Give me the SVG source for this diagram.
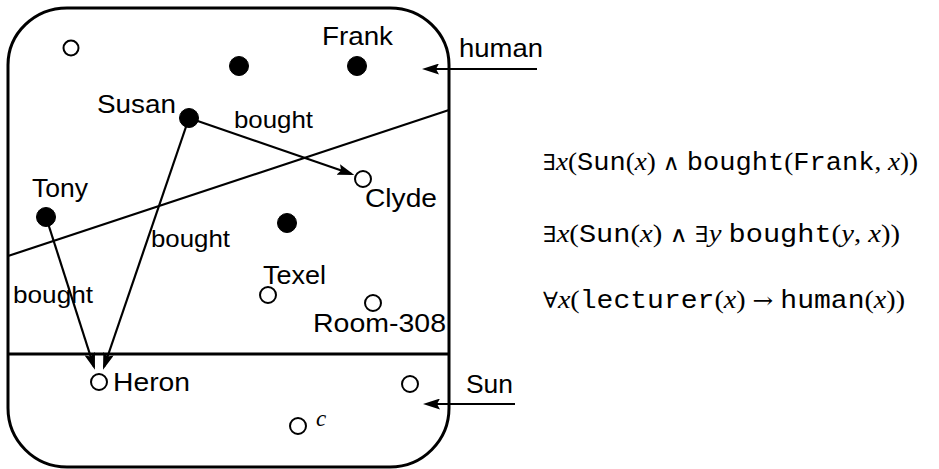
<svg xmlns="http://www.w3.org/2000/svg" width="939" height="469" viewBox="0 0 939 469">
<style>
.lbl{font-family:"Liberation Sans",Arial,sans-serif;font-size:26px;fill:#000}
.sm{font-family:"Liberation Sans",Arial,sans-serif;font-size:24px;fill:#000}
.open{fill:#fff;stroke:#000;stroke-width:2}
.fill{fill:#000;stroke:#000;stroke-width:1}
.con{stroke:#000;stroke-width:2.2;fill:none}
.frame{stroke:#000;stroke-width:3;fill:none}
.math{font-family:"Liberation Serif","DejaVu Serif",serif;font-size:25px;fill:#000}
.tt{font-family:"Liberation Mono","DejaVu Sans Mono",monospace}
.it{font-style:italic}
.sym{font-family:"DejaVu Serif",serif;font-size:22px}
</style>
<defs>
<marker id="ah" viewBox="0 0 17 11" refX="14" refY="5.5" markerWidth="17" markerHeight="11" orient="auto" markerUnits="userSpaceOnUse">
<path d="M0,0 L17,5.5 L0,11 L3,5.5 Z" fill="#000"/>
</marker>
</defs>
<rect width="939" height="469" fill="#fff"/>
<g id="frame">
<path class="frame" d="M67,8 H390 A59,57 0 0 1 449,65 V408 A59,59 0 0 1 390,467 H67 A59,59 0 0 1 8,408 V65 A59,57 0 0 1 67,8 Z"/>
<line class="con" x1="8" y1="256" x2="449" y2="110"/>
<line class="frame" x1="8" y1="354" x2="449" y2="354"/>
</g>
<g id="connectors">
<line class="con" x1="189" y1="118" x2="351.5" y2="174" marker-end="url(#ah)"/>
<line class="con" x1="189" y1="118" x2="104" y2="367" marker-end="url(#ah)"/>
<line class="con" x1="46" y1="217" x2="94" y2="367" marker-end="url(#ah)"/>
<line class="con" x1="537" y1="69" x2="425" y2="69" marker-end="url(#ah)"/>
<line class="con" x1="515" y1="404" x2="426" y2="404" marker-end="url(#ah)"/>
<text class="sm" x="234" y="128" textLength="79" lengthAdjust="spacingAndGlyphs">bought</text>
<text class="sm" x="151" y="247" textLength="79" lengthAdjust="spacingAndGlyphs">bought</text>
<text class="sm" x="13" y="303" textLength="80" lengthAdjust="spacingAndGlyphs">bought</text>
</g>
<g id="n-unnamed1"><circle class="open" cx="71" cy="48" r="7.5"/></g>
<g id="n-unnamed2"><circle class="fill" cx="239" cy="66" r="9.5"/></g>
<g id="n-frank"><circle class="fill" cx="357" cy="66" r="9.5"/><text class="lbl" x="322" y="45" textLength="71" lengthAdjust="spacingAndGlyphs">Frank</text></g>
<g id="n-susan"><circle class="fill" cx="189" cy="118" r="9.5"/><text class="lbl" x="97" y="113" textLength="79" lengthAdjust="spacingAndGlyphs">Susan</text></g>
<g id="n-clyde"><circle class="open" cx="363" cy="179" r="8"/><text class="lbl" x="365" y="207" textLength="72" lengthAdjust="spacingAndGlyphs">Clyde</text></g>
<g id="n-tony"><circle class="fill" cx="46" cy="217" r="9.5"/><text class="lbl" x="32" y="197" textLength="56" lengthAdjust="spacingAndGlyphs">Tony</text></g>
<g id="n-unnamed3"><circle class="fill" cx="287" cy="223" r="9.5"/></g>
<g id="n-texel"><circle class="open" cx="268" cy="295" r="8"/><text class="lbl" x="263" y="284" textLength="63" lengthAdjust="spacingAndGlyphs">Texel</text></g>
<g id="n-room308"><circle class="open" cx="373" cy="303" r="8"/><text class="lbl" x="313" y="332" textLength="133" lengthAdjust="spacingAndGlyphs">Room-308</text></g>
<g id="n-heron"><circle class="open" cx="99" cy="382" r="8"/><text class="lbl" x="113" y="391" textLength="77" lengthAdjust="spacingAndGlyphs">Heron</text></g>
<g id="n-unnamed4"><circle class="open" cx="410" cy="384" r="8"/></g>
<g id="n-c"><circle class="open" cx="298" cy="426" r="8"/><text x="316" y="426" font-family="Liberation Serif,serif" font-style="italic" font-size="23">c</text></g>
<g id="labels">
<text class="lbl" x="459" y="57" textLength="84" lengthAdjust="spacingAndGlyphs">human</text>
<text class="lbl" x="466" y="393" textLength="47" lengthAdjust="spacingAndGlyphs">Sun</text>
</g>
<g id="formulas">
<text class="math" x="543" y="170" textLength="375" lengthAdjust="spacingAndGlyphs"><tspan class="sym">∃</tspan><tspan class="it">x</tspan>(<tspan class="tt">Sun</tspan>(<tspan class="it">x</tspan>) <tspan class="sym">∧</tspan> <tspan class="tt">bought</tspan>(<tspan class="tt">Frank</tspan>, <tspan class="it">x</tspan>))</text>
<text class="math" x="543" y="242" textLength="357" lengthAdjust="spacingAndGlyphs"><tspan class="sym">∃</tspan><tspan class="it">x</tspan>(<tspan class="tt">Sun</tspan>(<tspan class="it">x</tspan>) <tspan class="sym">∧</tspan> <tspan class="sym">∃</tspan><tspan class="it">y</tspan> <tspan class="tt">bought</tspan>(<tspan class="it">y</tspan>, <tspan class="it">x</tspan>))</text>
<text class="math" x="543" y="308" textLength="362" lengthAdjust="spacingAndGlyphs"><tspan class="sym">∀</tspan><tspan class="it">x</tspan>(<tspan class="tt">lecturer</tspan>(<tspan class="it">x</tspan>) <tspan class="sym">→</tspan> <tspan class="tt">human</tspan>(<tspan class="it">x</tspan>))</text>
</g>
</svg>
